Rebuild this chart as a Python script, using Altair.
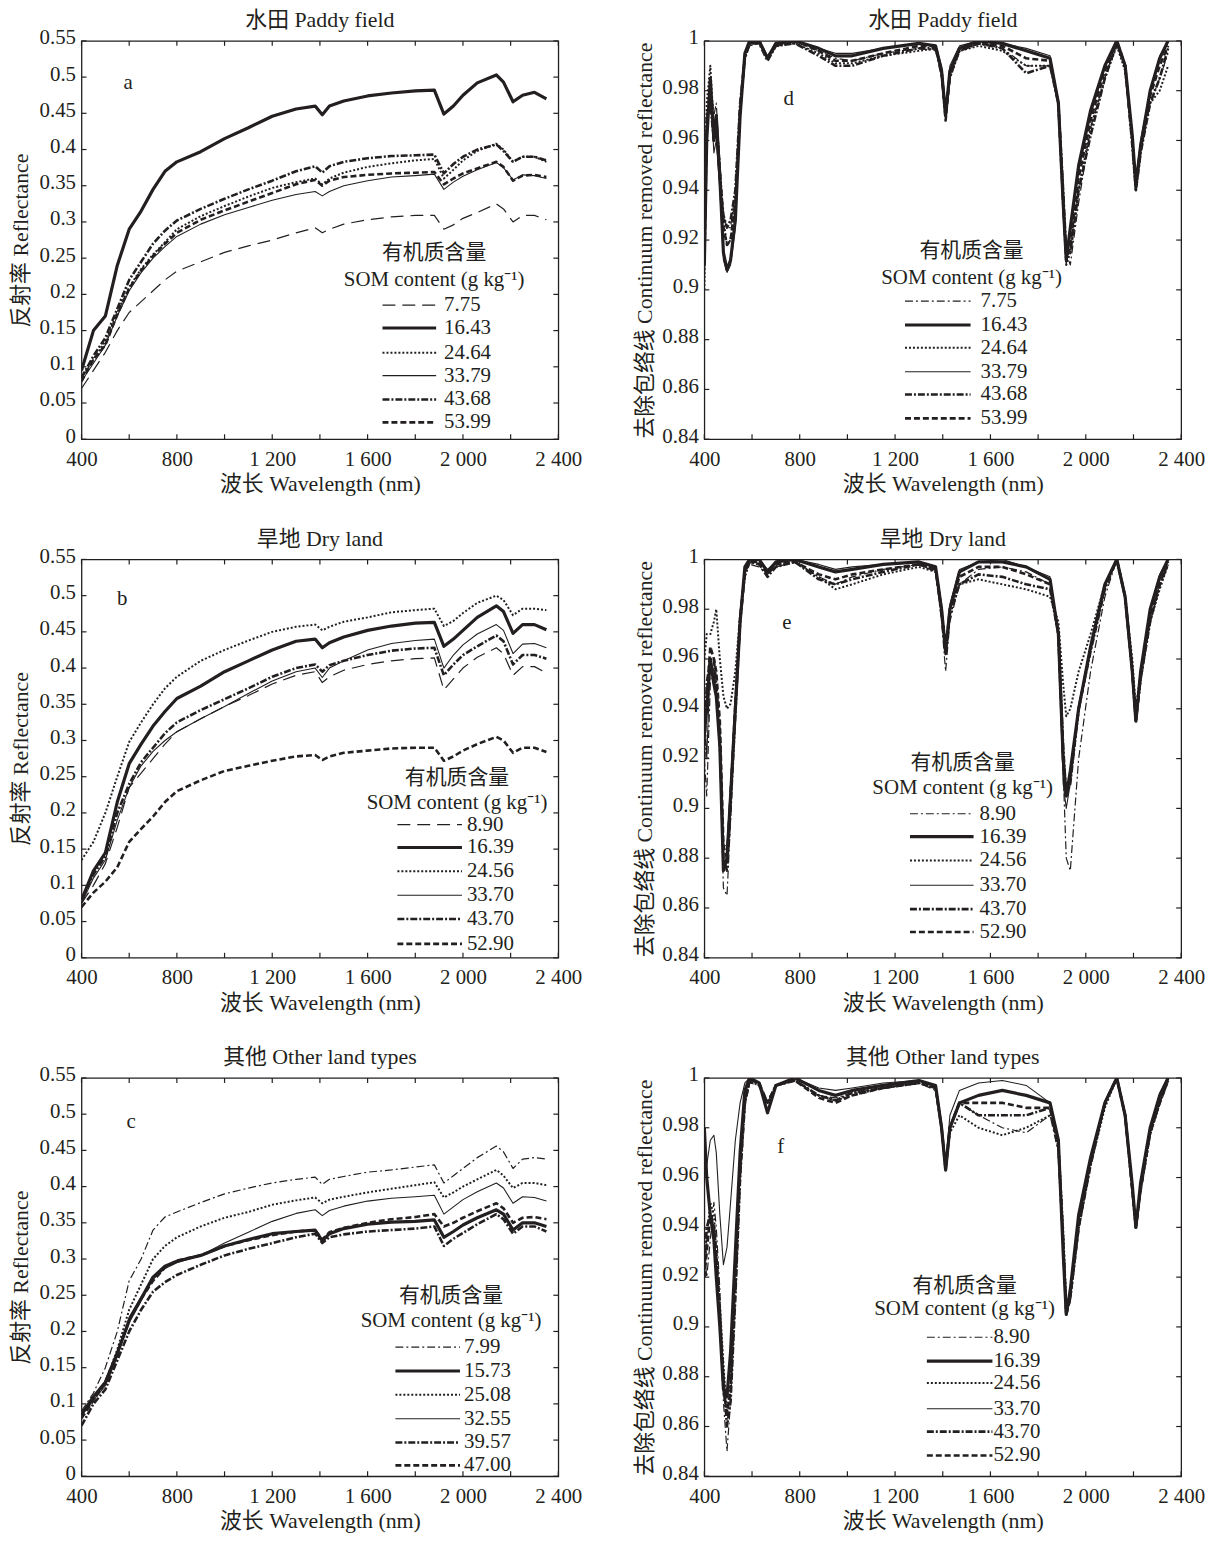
import altair as alt
import pandas as pd

FONT = "Liberation Serif, Times New Roman, Noto Sans CJK SC, serif"
INK = "#231f20"
W, H = 480, 401

# ---------------- wavelength grids (nm) ----------------
RW = [400, 450, 500, 550, 600, 650, 700, 750, 800, 900, 1000, 1100, 1200, 1300, 1380, 1410,
      1440, 1500, 1600, 1700, 1800, 1880, 1920, 1960, 2000, 2060, 2140, 2170, 2210, 2250, 2300, 2350]
CW = [400, 410, 425, 440, 450, 465, 480, 495, 510, 530, 550, 570, 590, 630, 665, 700, 780, 880,
      950, 1020, 1150, 1300, 1370, 1395, 1412, 1430, 1470, 1550, 1650, 1750, 1850, 1885, 1905,
      1918, 1935, 1970, 2020, 2080, 2130, 2165, 2195, 2210, 2230, 2270, 2310, 2345]

# ---------------- a: paddy field, reflectance ----------------
A_LABELS = ["7.75", "16.43", "24.64", "33.79", "43.68", "53.99"]
A1 = [.07, .095, .12, .15, .175, .19, .205, .22, .232, .245, .258, .267, .275, .285, .292, .285,
      .29, .297, .303, .307, .309, .309, .29, .296, .305, .313, .325, .318, .30, .309, .309, .303]
A2 = [.095, .15, .17, .24, .29, .315, .345, .37, .383, .397, .415, .43, .446, .456, .46, .448,
      .46, .467, .474, .478, .481, .482, .449, .46, .475, .492, .503, .493, .466, .475, .479, .47]
A3 = [.085, .11, .135, .175, .21, .235, .255, .272, .29, .308, .322, .335, .347, .355, .36, .352,
      .36, .368, .376, .381, .385, .387, .36, .372, .385, .398, .408, .40, .383, .39, .39, .383]
A4 = [.08, .105, .13, .17, .205, .23, .25, .266, .28, .297, .31, .32, .33, .338, .342, .336,
      .342, .35, .357, .362, .364, .366, .345, .355, .363, .372, .382, .375, .358, .365, .364, .36]
A5 = [.085, .115, .14, .18, .22, .245, .27, .288, .302, .318, .332, .345, .357, .37, .377, .368,
      .377, .383, .388, .391, .392, .393, .367, .38, .39, .40, .407, .398, .383, .39, .39, .385]
A6 = [.08, .11, .13, .172, .208, .233, .253, .27, .285, .303, .316, .328, .34, .352, .358, .35,
      .357, .362, .365, .367, .368, .369, .352, .36, .367, .374, .383, .376, .357, .364, .365, .362]

# ---------------- b: dry land, reflectance ----------------
B_LABELS = ["8.90", "16.39", "24.56", "33.70", "43.70", "52.90"]
B1 = [.075, .10, .13, .18, .235, .255, .275, .295, .312, .33, .347, .362, .378, .39, .395, .38,
      .388, .397, .405, .41, .413, .414, .37, .385, .40, .415, .428, .42, .39, .402, .402, .393]
B2 = [.08, .12, .145, .215, .268, .295, .32, .34, .358, .375, .395, .41, .425, .437, .44, .428,
      .435, .443, .452, .458, .462, .463, .43, .44, .452, .47, .486, .478, .448, .46, .46, .453]
B3 = [.135, .16, .20, .25, .298, .325, .35, .372, .388, .41, .425, .438, .45, .457, .46, .452,
      .457, .464, .47, .477, .48, .482, .458, .465, .476, .49, .50, .494, .473, .482, .482, .48]
B4 = [.075, .11, .135, .19, .235, .265, .285, .30, .312, .33, .347, .365, .382, .395, .40, .387,
      .40, .41, .425, .434, .438, .44, .40, .418, .432, .447, .46, .452, .42, .433, .434, .428]
B5 = [.08, .115, .14, .20, .24, .27, .29, .31, .325, .342, .357, .372, .388, .40, .405, .395,
      .404, .41, .418, .424, .427, .428, .39, .405, .418, .43, .445, .437, .405, .418, .418, .413]
B6 = [.07, .09, .105, .125, .16, .178, .195, .215, .23, .245, .258, .265, .272, .278, .28, .273,
      .278, .283, .286, .289, .29, .29, .272, .278, .286, .295, .305, .30, .283, .29, .29, .284]

# ---------------- c: other land types, reflectance ----------------
C_LABELS = ["7.99", "15.73", "25.08", "32.55", "39.57", "47.00"]
C1 = [.09, .115, .15, .20, .27, .30, .34, .358, .365, .378, .39, .398, .405, .41, .413, .403,
      .41, .414, .42, .423, .427, .43, .405, .415, .425, .44, .456, .448, .425, .438, .44, .438]
C2 = [.085, .11, .13, .17, .215, .245, .275, .29, .297, .305, .318, .327, .335, .338, .34, .325,
      .335, .342, .348, .351, .352, .354, .33, .338, .347, .357, .368, .362, .34, .35, .35, .345]
C3 = [.085, .105, .13, .175, .23, .265, .30, .318, .33, .345, .357, .365, .375, .381, .385, .377,
      .382, .386, .392, .397, .402, .406, .385, .392, .40, .41, .423, .415, .398, .405, .405, .402]
C4 = [.085, .105, .125, .165, .22, .248, .272, .287, .295, .305, .322, .337, .352, .363, .368, .36,
      .367, .373, .38, .384, .386, .388, .362, .372, .382, .393, .405, .398, .377, .386, .385, .38]
C5 = [.07, .10, .12, .16, .20, .23, .255, .268, .278, .292, .305, .314, .322, .33, .335, .322,
      .33, .334, .338, .34, .342, .345, .318, .328, .336, .348, .362, .355, .335, .345, .345, .338]
C6 = [.08, .105, .13, .17, .215, .245, .27, .288, .298, .305, .318, .326, .333, .338, .34, .327,
      .337, .343, .35, .355, .358, .362, .345, .35, .357, .366, .377, .37, .35, .357, .358, .355]

# ---------------- d: paddy field, continuum removed ----------------
D1 = [.905, .97, .985, .97, .975, .95, .93, .925, .925, .94, .975, .993, .998, .999, .994, .998,
      1.0, .996, .993, .992, .995, .997, .996, .985, .97, .985, .996, .999, .997, .99, .99, .975,
      .94, .915, .91, .935, .965, .985, 1.0, .99, .96, .94, .955, .975, .985, .995]
D2 = [.91, .96, .985, .96, .97, .945, .915, .908, .912, .928, .97, .995, 1.0, 1.0, .993, .999,
      1.0, .997, .994, .994, .997, .999, .998, .988, .97, .988, .997, 1.0, .999, .996, .993, .975,
      .935, .912, .925, .95, .972, .99, 1.0, .99, .962, .942, .958, .98, .993, 1.0]
D3 = [.90, .975, .99, .965, .97, .95, .928, .918, .92, .935, .972, .993, .999, .999, .993, .998,
      .999, .995, .991, .991, .994, .996, .997, .987, .97, .985, .996, .998, .996, .99, .99, .975,
      .94, .91, .915, .94, .965, .985, .998, .988, .96, .943, .958, .975, .98, .99]
D4 = [.90, .96, .98, .955, .96, .94, .912, .907, .91, .925, .968, .995, .999, 1.0, .994, .999,
      1.0, .997, .995, .995, .997, .999, .998, .99, .972, .99, .998, 1.0, .999, .997, .994, .975,
      .93, .91, .922, .948, .97, .99, 1.0, .99, .962, .945, .96, .98, .994, 1.0]
D5 = [.92, .97, .975, .96, .965, .945, .93, .925, .928, .94, .975, .993, .999, .999, .992, .998,
      .999, .994, .99, .99, .994, .997, .997, .988, .97, .986, .996, .999, .997, .987, .99, .975,
      .94, .915, .915, .94, .962, .985, .999, .99, .958, .94, .955, .975, .985, .997]
D6 = [.91, .965, .98, .962, .968, .948, .925, .918, .92, .935, .972, .994, .999, 1.0, .993, .998,
      1.0, .996, .992, .992, .995, .998, .998, .988, .968, .987, .997, .999, .998, .993, .992, .975,
      .935, .912, .918, .945, .968, .988, 1.0, .99, .96, .94, .956, .978, .99, .998]

# ---------------- e: dry land, continuum removed ----------------
E1 = [.92, .905, .95, .96, .945, .92, .868, .865, .895, .94, .975, .995, .998, .997, .994, .997,
      .999, .993, .99, .993, .996, .998, .995, .975, .955, .975, .99, .996, .997, .995, .99, .97,
      .915, .88, .875, .92, .955, .985, 1.0, .985, .955, .935, .95, .975, .99, 1.0]
E2 = [.93, .94, .96, .95, .945, .925, .875, .88, .905, .94, .975, .997, 1.0, 1.0, .995, .999,
      1.0, .997, .995, .996, .998, .999, .997, .98, .963, .98, .995, .999, .999, .997, .992, .97,
      .92, .905, .915, .94, .965, .99, 1.0, .985, .955, .935, .955, .98, .993, 1.0]
E3 = [.96, .97, .97, .975, .98, .96, .945, .94, .942, .955, .978, .993, .999, .999, .995, .998,
      .999, .993, .988, .99, .994, .997, .995, .98, .965, .978, .99, .992, .99, .988, .985, .975,
      .95, .937, .94, .955, .97, .99, 1.0, .985, .96, .94, .955, .975, .988, .998]
E4 = [.94, .92, .96, .955, .945, .93, .885, .885, .91, .945, .978, .997, 1.0, 1.0, .996, .999,
      1.0, .998, .996, .997, .998, .999, .997, .982, .965, .982, .996, .999, 1.0, .997, .993, .97,
      .91, .90, .91, .94, .965, .99, 1.0, .985, .955, .937, .955, .98, .994, 1.0]
E5 = [.92, .95, .96, .96, .95, .93, .88, .875, .90, .938, .975, .994, .999, .998, .993, .997,
      .999, .992, .99, .992, .995, .998, .996, .978, .962, .978, .99, .994, .993, .99, .988, .97,
      .925, .905, .91, .94, .963, .988, 1.0, .985, .955, .935, .952, .975, .99, .998]
E6 = [.93, .945, .965, .96, .955, .935, .885, .88, .905, .942, .976, .995, .999, .999, .994, .998,
      .999, .994, .992, .994, .996, .998, .996, .98, .964, .98, .993, .997, .997, .994, .99, .97,
      .92, .905, .912, .94, .964, .989, 1.0, .985, .955, .935, .953, .977, .99, .999]

# ---------------- f: other land types, continuum removed ----------------
F1 = [.93, .92, .935, .95, .94, .915, .87, .85, .87, .915, .96, .99, .998, .997, .99, .997,
      .999, .993, .992, .994, .996, .998, .995, .98, .963, .98, .99, .985, .98, .978, .985, .97,
      .935, .905, .91, .94, .965, .99, 1.0, .985, .955, .942, .955, .978, .99, 1.0]
F2 = [.98, .96, .945, .935, .92, .90, .875, .872, .89, .93, .97, .995, 1.0, .998, .986, .997,
      1.0, .995, .993, .995, .997, .999, .997, .98, .963, .98, .99, .993, .995, .993, .99, .975,
      .93, .905, .915, .945, .968, .99, 1.0, .985, .957, .94, .958, .98, .993, 1.0]
F3 = [.92, .935, .95, .945, .93, .91, .885, .865, .878, .92, .965, .992, .999, .998, .99, .997,
      .999, .993, .991, .993, .996, .998, .996, .98, .965, .978, .985, .98, .977, .98, .985, .975,
      .94, .91, .912, .94, .965, .988, 1.0, .985, .955, .94, .955, .977, .99, 1.0]
F4 = [.97, .965, .975, .977, .97, .945, .925, .932, .95, .975, .99, .998, 1.0, .998, .986, .997,
      1.0, .996, .995, .996, .998, .999, .997, .982, .965, .985, .995, .998, .999, .997, .99, .975,
      .93, .908, .915, .945, .968, .99, 1.0, .985, .955, .94, .957, .98, .994, 1.0]
F5 = [.925, .94, .945, .94, .925, .905, .88, .86, .87, .912, .96, .99, .999, .997, .99, .997,
      .999, .993, .991, .994, .996, .998, .996, .98, .964, .98, .99, .985, .985, .985, .988, .972,
      .935, .905, .912, .94, .965, .99, 1.0, .985, .955, .94, .955, .978, .99, .999]
F6 = [.92, .93, .945, .94, .93, .905, .875, .865, .875, .915, .962, .99, .999, .998, .99, .997,
      .999, .992, .99, .993, .996, .998, .996, .98, .963, .98, .99, .99, .99, .988, .988, .972,
      .935, .905, .912, .94, .966, .99, 1.0, .985, .955, .94, .955, .978, .99, .999]

# ---------------- axes ----------------
X_LABELS = [400, 800, 1200, 1600, 2000, 2400]
X_TICKS = [400, 600, 800, 1000, 1200, 1400, 1600, 1800, 2000, 2200, 2400]
R_TICKS = [0, 0.05, 0.1, 0.15, 0.2, 0.25, 0.3, 0.35, 0.4, 0.45, 0.5, 0.55]
CR_TICKS = [0.84, 0.86, 0.88, 0.9, 0.92, 0.94, 0.96, 0.98, 1]

LEG_T1 = "有机质含量"
LEG_T2 = "SOM content (g kg\u207b\u00b9)"

THICK = dict(strokeWidth=3.2)
DOTTED = dict(strokeDash=[2, 2], strokeWidth=2.0)
THIN = dict(strokeWidth=1.1)
DASHDOT = dict(strokeDash=[7, 2, 2, 2], strokeWidth=2.6)
DASHED = dict(strokeDash=[6, 3], strokeWidth=2.6)
LONGDASH = dict(strokeDash=[13, 7], strokeWidth=1.2)
DASHDOT_THIN = dict(strokeDash=[8, 3, 2, 3], strokeWidth=1.2)

STYLES_AB = [LONGDASH, THICK, DOTTED, THIN, DASHDOT, DASHED]
STYLES_OTHER = [DASHDOT_THIN, THICK, DOTTED, THIN, DASHDOT, DASHED]

ONE = pd.DataFrame({"k": [0]})
LAB_FS = 21
TITLE_FS = 22


def text_layer(txt, x, y, align="left", size=LAB_FS):
    return alt.Chart(ONE).mark_text(
        text=txt, align=align, baseline="middle", font=FONT, fontSize=size, color=INK
    ).encode(x=alt.value(x), y=alt.value(y))


def panel(title, wl, series, labels, styles, ydom, yticks, ytitle, ytpad, letter, letter_xy, leg):
    xenc = alt.X(
        "wl:Q",
        scale=alt.Scale(domain=[400, 2400], nice=False, zero=False),
        axis=alt.Axis(
            values=X_LABELS,
            labelExpr="replace(format(datum.value, ','), ',', ' ')",
            ticks=False, domain=False, grid=False, labelFlush=False, labelOverlap=False,
            labelPadding=9, titlePadding=5, title="波长 Wavelength (nm)",
        ),
    )
    yenc = alt.Y(
        "v:Q",
        scale=alt.Scale(domain=ydom, nice=False, zero=False),
        axis=alt.Axis(
            values=yticks, format="~g",
            ticks=False, domain=False, grid=False, labelFlush=False, labelOverlap=False,
            labelPadding=6, labelOffset=-3, titlePadding=ytpad, title=ytitle,
        ),
    )
    layers = []
    for vals, st in zip(series, styles):
        df = pd.DataFrame({"wl": wl, "v": vals})
        layers.append(
            alt.Chart(df).mark_line(color=INK, clip=True, strokeJoin="round", **st)
            .encode(x=xenc, y=yenc)
        )
    # inward ticks
    xt = pd.DataFrame({"wl": X_TICKS})
    yt = pd.DataFrame({"v": yticks})
    layers.append(alt.Chart(xt).mark_rule(color=INK, strokeWidth=1.2)
                  .encode(x=xenc, y=alt.value(H), y2=alt.value(H - 5)))
    layers.append(alt.Chart(xt).mark_rule(color=INK, strokeWidth=1.2)
                  .encode(x=xenc, y=alt.value(0), y2=alt.value(5)))
    layers.append(alt.Chart(yt).mark_rule(color=INK, strokeWidth=1.2)
                  .encode(y=yenc, x=alt.value(0), x2=alt.value(5)))
    layers.append(alt.Chart(yt).mark_rule(color=INK, strokeWidth=1.2)
                  .encode(y=yenc, x=alt.value(W), x2=alt.value(W - 5)))
    # panel title (above the plot)
    layers.append(text_layer(title, W / 2, -21, align="center", size=TITLE_FS))
    # panel letter
    layers.append(text_layer(letter, letter_xy[0], letter_xy[1], align="center"))
    # legend
    layers.append(text_layer(LEG_T1, leg["tx"], leg["t1"], align="center"))
    layers.append(text_layer(LEG_T2, leg["tx"], leg["t2"], align="center"))
    for lab, st, ry in zip(labels, styles, leg["rows"]):
        layers.append(
            alt.Chart(ONE).mark_rule(color=INK, **st)
            .encode(x=alt.value(leg["s1"]), x2=alt.value(leg["s2"]), y=alt.value(ry))
        )
        layers.append(text_layer(lab, leg["lx"], ry))
    return alt.layer(*layers).properties(width=W, height=H)


R_DOM = [0, 0.55]
CR_DOM = [0.84, 1]
RT = "反射率 Reflectance"
CT = "去除包络线 Continuum removed reflectance"

pa = panel("水田 Paddy field", RW, [A1, A2, A3, A4, A5, A6], A_LABELS, STYLES_AB, R_DOM, R_TICKS, RT, 7,
           "a", (47, 42),
           dict(tx=355, t1=214, t2=241, s1=303, s2=357, lx=365, rows=[266, 289, 314, 337, 361, 384]))
pd_ = panel("水田 Paddy field", CW, [D1, D2, D3, D4, D5, D6], A_LABELS, STYLES_OTHER, CR_DOM, CR_TICKS, CT, 5,
            "d", (85, 59),
            dict(tx=269, t1=212, t2=239, s1=202, s2=268, lx=278, rows=[262, 286, 309, 333, 356, 380]))
pb = panel("旱地 Dry land", RW, [B1, B2, B3, B4, B5, B6], B_LABELS, STYLES_AB, R_DOM, R_TICKS, RT, 7,
           "b", (41, 40),
           dict(tx=378, t1=220, t2=245, s1=318, s2=383, lx=388, rows=[267, 290, 314, 338, 362, 387]))
pe = panel("旱地 Dry land", CW, [E1, E2, E3, E4, E5, E6], B_LABELS, STYLES_OTHER, CR_DOM, CR_TICKS, CT, 5,
           "e", (83, 64),
           dict(tx=260, t1=205, t2=230, s1=207, s2=271, lx=277, rows=[256, 279, 303, 328, 352, 375]))
pc = panel("其他 Other land types", RW, [C1, C2, C3, C4, C5, C6], C_LABELS, STYLES_OTHER, R_DOM, R_TICKS, RT, 7,
           "c", (50, 44),
           dict(tx=372, t1=220, t2=245, s1=316, s2=381, lx=385, rows=[271, 295, 319, 343, 367, 390]))
pf = panel("其他 Other land types", CW, [F1, F2, F3, F4, F5, F6], B_LABELS, STYLES_OTHER, CR_DOM, CR_TICKS, CT, 5,
           "f", (77, 70),
           dict(tx=262, t1=209, t2=233, s1=224, s2=290, lx=291, rows=[261, 285, 307, 333, 356, 380]))

chart = alt.concat(
    pa, pd_, pb, pe, pc, pf,
    columns=2,
    spacing={"row": 121, "column": 147},
    bounds="flush",
).properties(
    padding={"left": 0, "top": -5, "right": 0, "bottom": 0},
    background="white",
).configure_view(
    stroke=INK, strokeWidth=1.3
).configure_axis(
    labelFont=FONT, titleFont=FONT, labelFontSize=LAB_FS, titleFontSize=TITLE_FS,
    titleFontWeight="normal", labelColor=INK, titleColor=INK,
)

chart.save("out.html", embed_options={"renderer": "svg", "actions": False})
